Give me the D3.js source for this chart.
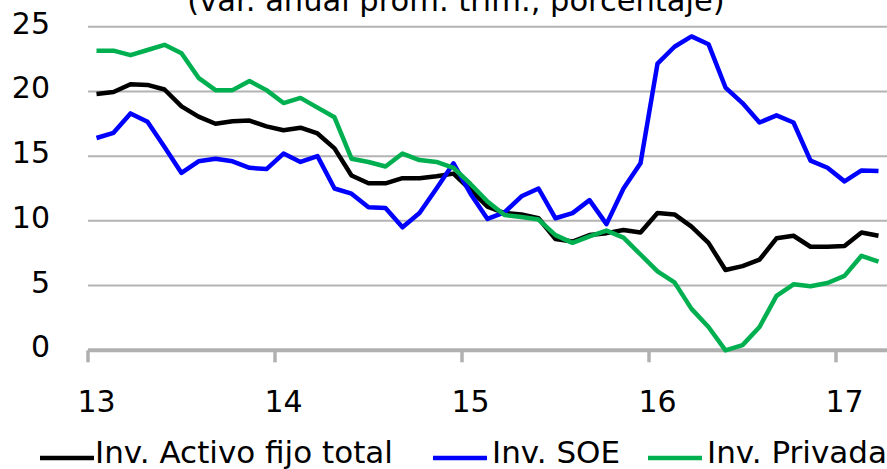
<!DOCTYPE html>
<html>
<head>
<meta charset="utf-8">
<script src="https://cdn.jsdelivr.net/npm/d3@7/dist/d3.min.js"></script>
<style>
  html, body { margin: 0; padding: 0; background: #fff; }
  svg { display: block; }
  text { font-family: "DejaVu Sans", sans-serif; fill: #000; }
</style>
</head>
<body>
<svg id="chart" width="887" height="469"></svg>
<script>
// ---- data ----
const years = ["13", "14", "15", "16", "17"];
const months = ["Feb","Mar","Abr","May","Jun","Jul","Ago","Sep","Oct","Nov","Dic"];
const categories = [];
years.forEach(y => months.forEach(m => categories.push(m + "-" + y)));
categories.length = 47; // up to Apr-17
const yTicks = [0, 5, 10, 15, 20, 25];
const title = "(var. anual prom. trim., porcentaje)";
const seriesNames = ["Inv. Activo fijo total", "Inv. SOE", "Inv. Privada"];

const invTotal = [19.8, 19.95, 20.55, 20.5, 20.15, 18.85, 18.05, 17.5, 17.7, 17.75, 17.3,
  17.0, 17.2, 16.75, 15.6, 13.5, 12.9, 12.9, 13.3, 13.3, 13.45, 13.65,
  12.4, 11.1, 10.6, 10.5, 10.2, 8.6, 8.4, 8.9, 9.05, 9.3, 9.1,
  10.6, 10.5, 9.55, 8.3, 6.2, 6.5, 7.0, 8.65, 8.85, 8.0, 8.0,
  8.05, 9.1, 8.85];
const invSOE = [16.4, 16.8, 18.3, 17.65, 15.7, 13.7, 14.6, 14.8, 14.6, 14.1, 14.0,
  15.2, 14.55, 15.0, 12.5, 12.1, 11.05, 11.0, 9.5, 10.6, 12.5, 14.45,
  12.1, 10.15, 10.65, 11.9, 12.5, 10.2, 10.6, 11.6, 9.75, 12.5, 14.45,
  22.15, 23.45, 24.25, 23.65, 20.3, 19.1, 17.6, 18.15, 17.6, 14.65, 14.1,
  13.05, 13.9, 13.85];
const invPrivada = [23.15, 23.15, 22.8, 23.2, 23.6, 22.95, 21.05, 20.1, 20.1, 20.8, 20.1,
  19.1, 19.5, 18.75, 18.0, 14.8, 14.55, 14.2, 15.2, 14.7, 14.55, 14.1,
  12.85, 11.5, 10.45, 10.3, 10.1, 8.9, 8.3, 8.8, 9.25, 8.7, 7.4,
  6.1, 5.25, 3.2, 1.8, 0.0, 0.4, 1.8, 4.2, 5.1, 4.95, 5.2,
  5.75, 7.3, 6.85];
const seriesColors = ["#000000", "#0000FF", "#00B050"];

// ---- chart ----
const svg = d3.select("#chart");
const x = d3.scaleBand().domain(categories).range([88, 887]).paddingInner(0).paddingOuter(0);
const y = d3.scaleLinear().domain([0, 25]).range([350.3, 26.7]);
const bw = x.bandwidth();

// gridlines
svg.append("g").selectAll("line").data(yTicks.filter(v => v > 0)).join("line")
  .attr("x1", 88).attr("x2", 887)
  .attr("y1", d => y(d)).attr("y2", d => y(d))
  .attr("stroke", "#b3b3b3").attr("stroke-width", 2);

// y labels
svg.append("g").selectAll("text").data(yTicks).join("text")
  .attr("x", 50).attr("y", d => y(d) + 7)
  .attr("text-anchor", "end")
  .style("font-size", "30px")
  .text(d => d);

// x axis
const yearStarts = years.map((yr, k) => categories[k * 11]);
const axisG = svg.append("g");
axisG.append("line")
  .attr("x1", 88).attr("x2", 887).attr("y1", y(0)).attr("y2", y(0))
  .attr("stroke", "#b0b0b0").attr("stroke-width", 4);
axisG.selectAll("line.tick").data(yearStarts).join("line").attr("class", "tick")
  .attr("x1", d => x(d)).attr("x2", d => x(d))
  .attr("y1", y(0)).attr("y2", y(0) + 12)
  .attr("stroke", "#b0b0b0").attr("stroke-width", 3.5);
axisG.selectAll("text").data(yearStarts).join("text")
  .attr("x", d => x(d) + bw / 2).attr("y", 412)
  .attr("text-anchor", "middle")
  .style("font-size", "30px")
  .text((d, k) => years[k]);

// title
svg.append("text").attr("x", 456).attr("y", 11).attr("text-anchor", "middle")
  .style("font-size", "30.5px").text(title);

// lines
const line = d3.line().x((d, i) => x(categories[i]) + bw / 2).y(d => y(d));
[invTotal, invSOE, invPrivada].forEach((s, k) => {
  svg.append("path").datum(s)
    .attr("d", line)
    .attr("fill", "none")
    .attr("stroke", seriesColors[k])
    .attr("stroke-width", 4.5)
    .attr("stroke-linejoin", "round");
});

// legend
const legendPos = [{lx: 40, tx: 95}, {lx: 433, tx: 492}, {lx: 648, tx: 707}];
const lg = svg.append("g");
seriesNames.forEach((name, k) => {
  lg.append("line").attr("x1", legendPos[k].lx).attr("x2", legendPos[k].lx + 54)
    .attr("y1", 458).attr("y2", 458)
    .attr("stroke", seriesColors[k]).attr("stroke-width", 4.5);
  lg.append("text").attr("x", legendPos[k].tx).attr("y", 463)
    .style("font-size", "31px").text(name);
});
</script>
</body>
</html>
